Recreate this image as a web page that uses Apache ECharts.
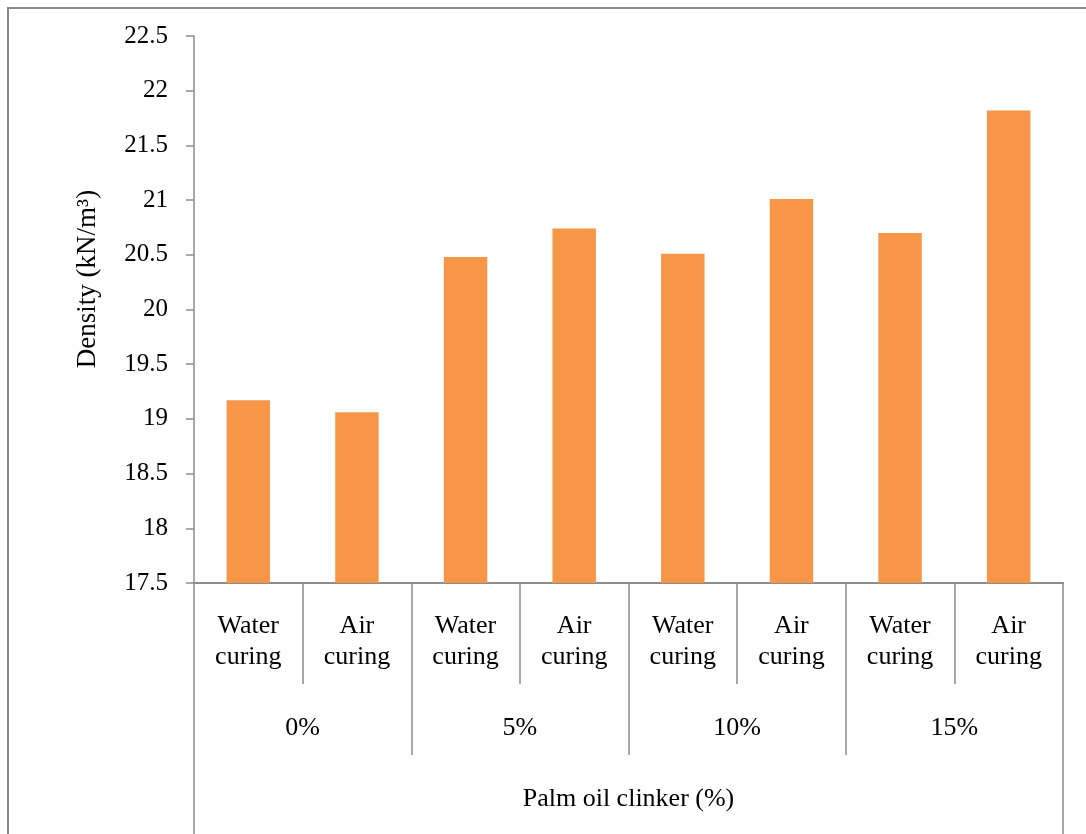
<!DOCTYPE html>
<html>
<head>
<meta charset="utf-8">
<script src="https://cdn.jsdelivr.net/npm/echarts@6/dist/echarts.min.js"></script>
<style>
  html, body { margin: 0; padding: 0; background: #fff; }
  #chart { width: 1086px; height: 834px; }
</style>
</head>
<body>
<div id="chart"></div>
<script>
// Curing regime per bar, grouped by palm oil clinker content
const curingLabels = ['Water\ncuring', 'Air\ncuring', 'Water\ncuring', 'Air\ncuring',
                      'Water\ncuring', 'Air\ncuring', 'Water\ncuring', 'Air\ncuring'];
const clinkerGroups = ['0%', '5%', '10%', '15%'];
const outerTitle = ['Palm oil clinker (%)'];
// Density values (kN/m3)
const density = [19.17, 19.06, 20.48, 20.74, 20.51, 21.01, 20.70, 21.82];
const yMin = 17.5, yMax = 22.5, yStep = 0.5;

const serif = '"Liberation Serif", "Times New Roman", serif';
const gray = '#8c8c8c';

const chart = echarts.init(document.getElementById('chart'));

// One band of the multi-level category axis: ticks mark the band's dividers
function levelAxis(data, tickLen, margin) {
  return {
    type: 'category',
    position: 'bottom',
    data: data,
    boundaryGap: true,
    axisLine: { show: true, lineStyle: { color: gray, width: 1.5 } },
    axisTick: { show: true, interval: 0, length: tickLen, lineStyle: { color: gray, width: 1.5 } },
    axisLabel: {
      interval: 0, margin: margin, color: '#000',
      fontFamily: serif, fontSize: 26, lineHeight: 31, align: 'center'
    },
    splitLine: { show: false }
  };
}

chart.setOption({
  animation: false,
  backgroundColor: '#fff',
  grid: { left: 194, right: 23, top: 36, bottom: 251, containLabel: false },
  xAxis: [
    levelAxis(curingLabels, 101, 28),
    levelAxis(clinkerGroups, 172, 130),
    levelAxis(outerTitle, 260, 201)
  ],
  yAxis: {
    type: 'value',
    min: yMin, max: yMax, interval: yStep,
    axisLine: { show: true, lineStyle: { color: gray, width: 1.5 } },
    axisTick: { show: true, length: 8, lineStyle: { color: gray, width: 1.5 } },
    axisLabel: { color: '#000', fontFamily: serif, fontSize: 25, margin: 26 },
    splitLine: { show: false }
  },
  series: [{
    type: 'bar',
    xAxisIndex: 0,
    data: density,
    barCategoryGap: '60%',
    itemStyle: { color: '#F79646' }
  }],
  graphic: [
    {
      type: 'rect',
      shape: { x: 8, y: 8, width: 1200, height: 1000 },
      style: { fill: 'none', stroke: '#8a8a8a', lineWidth: 2 },
      silent: true
    },
    {
      type: 'text',
      x: 88, y: 279,
      rotation: Math.PI / 2,
      style: {
        text: 'Density (kN/m³)',
        fontFamily: serif, fontSize: 27, fill: '#000',
        align: 'center', verticalAlign: 'middle'
      }
    }
  ]
});
</script>
</body>
</html>
